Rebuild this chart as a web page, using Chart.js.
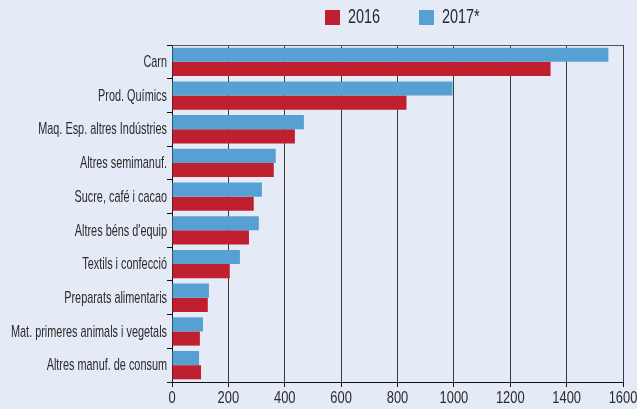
<!DOCTYPE html>
<html>
<head>
<meta charset="utf-8">
<script src="https://cdn.jsdelivr.net/npm/chart.js@4/dist/chart.umd.min.js"></script>
<style>
  html, body { margin: 0; padding: 0; background: #e4eaf6; }
  #wrap { width: 637px; height: 409px; }
</style>
</head>
<body>
<div id="wrap"><canvas id="myChart"></canvas></div>
<script>
var categories = [
    'Carn',
    'Prod. Químics',
    'Maq. Esp. altres Indústries',
    'Altres semimanuf.',
    'Sucre, café i cacao',
    "Altres béns d'equip",
    'Textils i confecció',
    'Preparats alimentaris',
    'Mat. primeres animals i vegetals',
    'Altres manuf. de consum'
];
var values2016 = [1343, 832, 436, 361, 290, 273, 205, 127, 99, 103];
var values2017 = [1548, 995, 468, 368, 319, 308, 241, 131, 110, 96];
var xTicks = [0, 200, 400, 600, 800, 1000, 1200, 1400, 1600];

var FONT = '"Liberation Sans", Arial, sans-serif';
var RED = '#c01f30';
var BLUE = '#57a0d4';
var TEXT = '#2b2b2b';

// condensed text: draw with a horizontal squeeze
function narrowText(c, text, x, y, size, squeeze, align) {
    c.save();
    c.translate(x, y);
    c.scale(squeeze, 1);
    c.font = size + 'px ' + FONT;
    c.textAlign = align;
    c.textBaseline = 'middle';
    c.fillStyle = TEXT;
    c.fillText(text, 0, 0);
    c.restore();
}

// axis labels, legend row and the top frame line
var labelsAndLegend = {
    id: 'labelsAndLegend',
    afterDraw: function (chart) {
        var c = chart.ctx, a = chart.chartArea;
        var xs = chart.scales.x, ys = chart.scales.y;

        c.save();
        c.strokeStyle = '#555';
        c.lineWidth = 1;
        c.beginPath();
        c.moveTo(a.left, a.top + 0.5);
        c.lineTo(a.right, a.top + 0.5);
        c.stroke();
        c.restore();

        ys.ticks.forEach(function (t, i) {
            narrowText(c, chart.data.labels[t.value], a.left - 5, ys.getPixelForTick(i) + 0.5, 17, 0.64, 'right');
        });
        xTicks.forEach(function (v) {
            narrowText(c, String(v), xs.getPixelForValue(v), a.bottom + 16.5, 17, 0.76, 'center');
        });

        var items = [chart.data.datasets[1], chart.data.datasets[0]];
        var lx = [325, 419];
        items.forEach(function (ds, i) {
            c.fillStyle = ds.backgroundColor;
            c.fillRect(lx[i], 10, 15, 15);
            narrowText(c, ds.label, lx[i] + 23, 17.5, 19.5, 0.74, 'left');
        });
    }
};

window.onload = function () {
    var ctx = document.getElementById('myChart').getContext('2d');
    var config = {
        type: 'bar',
        data: {
            labels: categories,
            datasets: [{
                label: '2017*',
                data: values2017,
                backgroundColor: BLUE
            }, {
                label: '2016',
                data: values2016,
                backgroundColor: RED
            }]
        },
        options: {
            indexAxis: 'y',
            responsive: true,
            maintainAspectRatio: false,
            animation: false,
            layout: {
                padding: { top: 45, right: 14, left: 0, bottom: 0 }
            },
            datasets: {
                bar: { categoryPercentage: 0.84, barPercentage: 1.0 }
            },
            plugins: {
                legend: { display: false },
                tooltip: { enabled: false }
            },
            scales: {
                x: {
                    min: 0,
                    max: 1600,
                    afterBuildTicks: function (scale) {
                        scale.ticks = xTicks.map(function (v) { return { value: v }; });
                    },
                    afterFit: function (scale) { scale.height = 27; },
                    grid: {
                        color: '#3a3a3a',
                        lineWidth: 1,
                        tickLength: 5,
                        tickColor: '#111'
                    },
                    border: { color: '#111', width: 1 },
                    ticks: { display: false }
                },
                y: {
                    afterFit: function (scale) { scale.width = 172; },
                    grid: {
                        offset: true,
                        drawOnChartArea: false,
                        tickLength: 5,
                        tickColor: '#111'
                    },
                    border: { color: '#111', width: 1 },
                    ticks: { display: false }
                }
            }
        },
        plugins: [labelsAndLegend]
    };
    window.myBars = new Chart(ctx, config);
};
</script>
</body>
</html>
